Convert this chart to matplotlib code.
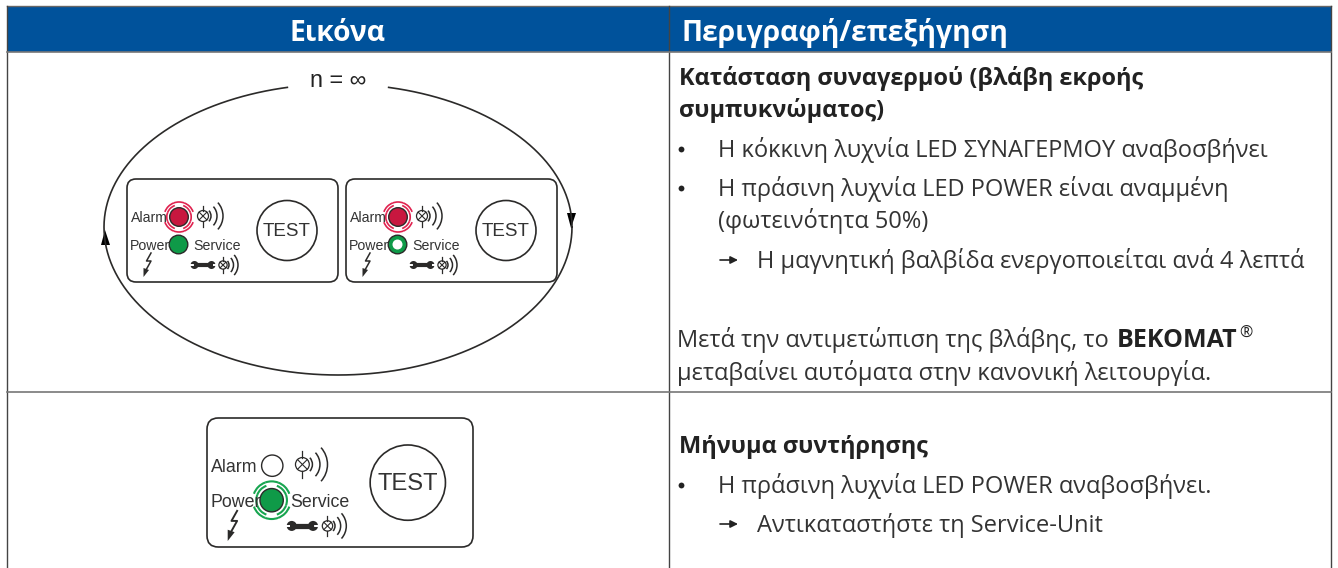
import numpy as np
import matplotlib
matplotlib.use("Agg")
import matplotlib.pyplot as plt
from matplotlib.patches import Circle, Arc, FancyBboxPatch, Polygon, Rectangle

plt.rcParams['font.family'] = ['Open Sans', 'DejaVu Sans']

# all page content, in the positions of the original page (baselines for y)
header_labels = ["Εικόνα", "Περιγραφή/επεξήγηση"]
col_edges = [7, 669, 1331]
row_edges = [52, 392]

body_bold = [
    ("Κατάσταση συναγερμού (βλάβη εκροής", 679, 85),
    ("συμπυκνώματος)", 679, 117),
    ("Μήνυμα συντήρησης", 679, 453),
]
body_plain = [
    ("Η κόκκινη λυχνία LED ΣΥΝΑΓΕΡΜΟΥ αναβοσβήνει", 718, 157),
    ("Η πράσινη λυχνία LED POWER είναι αναμμένη", 718, 196),
    ("(φωτεινότητα 50%)", 718, 228),
    ("Η μαγνητική βαλβίδα ενεργοποιείται ανά 4 λεπτά", 757, 268),
    ("Μετά την αντιμετώπιση της βλάβης, το", 677, 347),
    ("μεταβαίνει αυτόματα στην κανονική λειτουργία.", 677, 380),
    ("Η πράσινη λυχνία LED POWER αναβοσβήνει.", 718, 493),
    ("Αντικαταστήστε τη Service-Unit", 757, 532),
]
bullets = [(681, 149), (681, 188), (681, 485)]
arrows = [(720, 260), (720, 524)]

# panels: x, y, w, h, scale, alarm state, power style, power blinking
panels = [
    (127, 179, 211, 103, 1.0, "on", "full", False),
    (346, 179, 211, 103, 1.0, "on", "ring", False),
    (207, 418, 266, 129, 1.255, "off", "full", True),
]

RED = "#c8173f"
GREEN = "#0f9a48"
DARK = "#2b2a29"
BLUE = "#00529b"
LABEL = ["Liberation Sans", "DejaVu Sans"]

fig = plt.figure(figsize=(13.38, 5.68), dpi=100)
ax = fig.add_axes([0, 0, 1, 1])
ax.set_xlim(0, 1338)
ax.set_ylim(568, 0)
ax.axis("off")

# header
ax.add_patch(Rectangle((col_edges[0], 6), col_edges[2] - col_edges[0], 46, fc=BLUE, ec="none"))
ax.plot([col_edges[0], col_edges[2]], [6, 6], color="#666666", lw=1)
ax.text(338, 41, header_labels[0], color="white", fontsize=20.3, fontweight="bold", ha="center", va="baseline")
ax.text(681, 41, header_labels[1], color="white", fontsize=20.3, fontweight="bold", ha="left", va="baseline")

# grid lines
for x in col_edges:
    ax.plot([x, x], [6, 568], color="#444444", lw=1)
for y in row_edges:
    ax.plot([col_edges[0], col_edges[2]], [y, y], color="#777777", lw=1.2)

# text
for s, x, y in body_bold:
    ax.text(x, y, s, fontsize=16.9, fontweight="bold", color="#222222", va="baseline")
for s, x, y in body_plain:
    ax.text(x, y, s, fontsize=17.0, color="#333333", va="baseline")
ax.text(1117, 347, "BEKOMAT", fontsize=18.0, fontweight="bold", color="#222222", va="baseline")
ax.text(1239, 338, "®", fontsize=11.5, color="#222222", va="baseline")
for x, y in bullets:
    ax.plot([x], [y], "o", ms=4.2, color="#222222", mew=0)
for x, y in arrows:
    ax.annotate("", xy=(x + 18, y), xytext=(x, y),
                arrowprops=dict(arrowstyle="-|>", color="#222222", lw=1.2, mutation_scale=11,
                                shrinkA=0, shrinkB=0))


# big loop, gap at the top for the n label
t = np.linspace(0, 2 * np.pi, 721)
lx = 338 + 234 * np.cos(t)
ly = 227 + np.where(np.sin(t) < 0, 143, 148) * np.sin(t)
lx = np.where((ly < 150) & (np.abs(lx - 338) < 50), np.nan, lx)
ax.plot(lx, ly, color=DARK, lw=1.2)
ax.text(338, 87, "n = ∞", family=LABEL, fontsize=16.8, color="#222222", ha="center", va="baseline")
ax.add_patch(Polygon([[567, 213], [576, 213], [571, 228]], fc="black", ec="none"))
ax.add_patch(Polygon([[101, 245], [110, 245], [105, 230]], fc="black", ec="none"))


def bolt(x, y, k):
    ax.plot([x + k * 3, x - k * 1.5, x + k * 3, x - k * 2], [y - k * 11, y - k * 3, y - k * 3, y + k * 6],
            color=DARK, lw=1.1 * k)
    ax.add_patch(Polygon([[x - k * 4.5, y + k * 13], [x - k * 4.5, y + k * 4], [x + k * 1, y + k * 6]],
                         fc=DARK, ec="none"))


def signal(x, y, k, rs):
    # lamp symbol with sound arcs
    r = 5.5 * k
    ax.add_patch(Circle((x, y), r, fc="none", ec=DARK, lw=0.9))
    ax.plot([x - r * .7, x + r * .7], [y - r * .7, y + r * .7], color=DARK, lw=0.8)
    ax.plot([x - r * .7, x + r * .7], [y + r * .7, y - r * .7], color=DARK, lw=0.8)
    ax.plot([x, x], [y - r - 5 * k, y - r], color=DARK, lw=0.9)
    ax.plot([x, x], [y + r, y + r + 5 * k], color=DARK, lw=0.9)
    for rr in rs:
        ax.add_patch(Arc((x, y), 2 * rr * k, 2 * rr * k, theta1=-42, theta2=42, ec=DARK, lw=1.1))


def wrench(x, y, k):
    ax.plot([x - 7 * k, x + 7 * k], [y, y], color=DARK, lw=3.0 * k)
    ax.add_patch(Circle((x - 8.5 * k, y), 4 * k, fc=DARK, ec="none"))
    ax.add_patch(Circle((x + 8.5 * k, y), 4 * k, fc=DARK, ec="none"))
    ax.add_patch(Rectangle((x - 13 * k, y - 1 * k), 3.5 * k, 2 * k, fc="white", ec="none"))
    ax.add_patch(Rectangle((x + 9.5 * k, y - 1 * k), 3.5 * k, 2 * k, fc="white", ec="none"))


def blink(x, y, k, color):
    for rr in [12.2, 15]:
        for th in [0, 90, 180, 270]:
            ax.add_patch(Arc((x, y), 2 * rr * k, 2 * rr * k, theta1=th + 20, theta2=th + 70, ec=color, lw=1.2 * k))
    for th in [0, 180]:
        ax.add_patch(Arc((x, y), 2 * 12.2 * k, 2 * 12.2 * k, theta1=th - 20, theta2=th + 20, ec=color, lw=1.2 * k))
    for th in [90, 270]:
        ax.add_patch(Arc((x, y), 2 * 15 * k, 2 * 15 * k, theta1=th - 20, theta2=th + 20, ec=color, lw=1.2 * k))


def panel(px, py, w, h, k, alarm, power, pow_blink):
    rnd = 9 * k
    ax.add_patch(FancyBboxPatch((px + rnd, py + rnd), w - 2 * rnd, h - 2 * rnd,
                                boxstyle=f"round,pad={rnd},rounding_size={rnd}",
                                fc="white", ec=DARK, lw=1.2))
    fs = 10.2 * k
    led_x = px + 52 * k
    ay = py + 38 * k
    py2 = py + 65.5 * k
    ax.text(px + 3.5 * k, ay + 5 * k, "Alarm", family=LABEL, fontsize=fs, color="#333333", va="baseline")
    ax.text(px + 2.5 * k, py2 + 5.5 * k, "Power", family=LABEL, fontsize=fs, color="#333333", va="baseline")
    ax.text(px + 66 * k, py2 + 5.5 * k, "Service", family=LABEL, fontsize=fs, color="#333333", va="baseline", zorder=4)
    if alarm == "on":
        ax.add_patch(Circle((led_x, ay), 9.3 * k, fc=RED, ec=DARK, lw=1.0, zorder=3))
        blink(led_x, ay, k, "#e0224f")
    else:
        ax.add_patch(Circle((led_x, ay), 8.5 * k, fc="white", ec=DARK, lw=1.0))
    ax.add_patch(Circle((led_x - 0.5 * k, py2), 9.3 * k, fc=GREEN, ec=DARK, lw=1.0, zorder=3))
    if power == "ring":
        ax.add_patch(Circle((led_x - 0.5 * k, py2), 5 * k, fc="white", ec="none", zorder=3))
    if pow_blink:
        blink(led_x - 0.5 * k, py2, k, "#18a550")
    signal(px + 76 * k, ay - 1 * k, k, [8, 14, 20])
    wrench(px + 76 * k, py + 86 * k, k)
    signal(px + 96 * k, py + 86 * k, k * 0.75, [8, 14, 20])
    bolt(px + 21 * k, py + 85 * k, k)
    cx = px + 160 * k
    ax.add_patch(Circle((cx, py + 51.5 * k), 30 * k, fc="white", ec=DARK, lw=1.2))
    ax.text(cx, py + 57.5 * k, "TEST", family=LABEL, fontsize=13.6 * k, color="#333333", ha="center", va="baseline")


for p in panels:
    panel(*p)

fig.savefig("out.png", dpi=100, facecolor="white")
